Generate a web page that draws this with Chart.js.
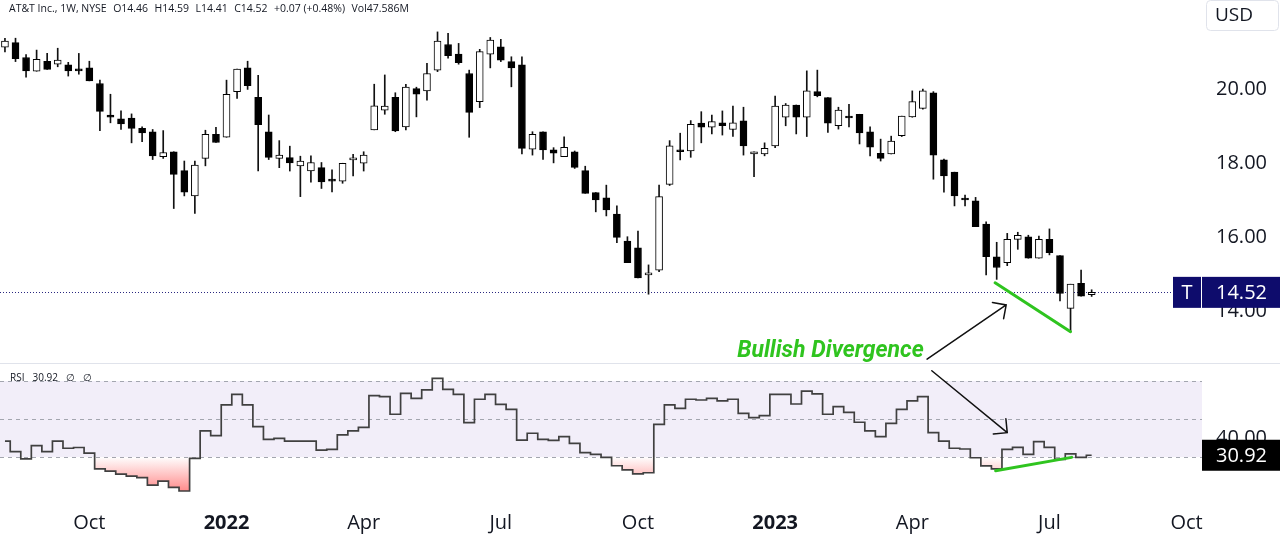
<!DOCTYPE html>
<html>
<head>
<meta charset="utf-8">
<title>AT&T Inc. weekly with RSI</title>
<script src="https://cdn.jsdelivr.net/npm/chart.js@4/dist/chart.umd.min.js"></script>
<style>
  html, body { margin: 0; padding: 0; background: #fff; }
  #wrap { position: relative; width: 1280px; height: 546px; }
</style>
</head>
<body>
<div id="wrap"><canvas id="chart" width="1280" height="546"></canvas></div>
<script>
// weekly bars, first one is the week of 9 Aug 2021 (x = bar index)
const opens  = [21.13,21.25,20.85,20.48,20.75,20.67,20.65,20.51,20.57,20.15,19.30,19.20,19.22,18.94,18.85,18.18,18.31,17.80,17.12,18.13,
                18.78,18.70,19.93,20.57,19.78,18.85,18.13,18.15,17.93,17.79,17.88,17.53,17.52,18.09,18.00,18.90,19.43,19.78,18.98,20.01,
                19.95,20.51,21.20,20.94,20.42,19.66,20.94,21.14,20.74,20.65,18.38,18.85,18.36,18.18,18.31,17.80,17.21,17.07,16.63,15.90,
                15.72,14.99,15.12,17.43,18.36,18.33,19.08,18.97,19.09,18.91,19.14,18.25,18.25,18.47,19.24,19.57,19.24,19.93,19.77,19.01,
                19.24,19.32,18.85,18.27,18.25,18.74,19.25,19.48,19.90,18.09,17.76,17.02,16.99,16.36,15.48,15.32,15.95,16.02,15.44,15.95,
                15.51,14.09,14.76,14.46];
const highs  = [21.37,21.37,20.93,21.05,20.96,21.10,20.72,20.96,20.75,20.24,19.86,19.41,19.33,18.98,18.91,18.88,18.31,18.06,18.06,18.89,
                18.97,20.24,20.54,20.75,20.37,19.30,18.61,18.46,18.19,18.20,18.02,17.82,18.00,18.24,18.31,20.13,20.38,19.90,20.13,20.05,
                20.69,21.54,21.50,21.23,20.51,21.07,21.39,21.34,20.87,20.87,18.85,18.85,18.42,18.71,18.33,17.92,17.21,17.41,16.85,16.02,
                16.17,15.26,17.41,18.61,18.81,19.15,19.39,19.30,19.41,19.54,19.51,18.31,18.55,19.81,19.61,19.57,20.49,20.51,19.77,19.51,
                19.59,19.32,18.98,18.65,18.73,19.27,19.95,20.00,19.93,18.11,17.76,17.14,17.08,16.42,15.87,16.11,16.14,16.06,16.04,16.23,
                15.51,14.74,15.12,14.59];
const lows   = [21.00,20.74,20.32,20.48,20.53,20.60,20.35,20.40,20.22,18.88,19.09,18.91,18.55,18.58,18.10,18.13,16.78,17.12,16.65,17.93,
                18.56,18.70,19.75,19.99,17.79,18.10,17.88,17.79,17.10,17.49,17.32,17.23,17.46,17.66,17.79,18.90,19.32,18.85,18.90,19.25,
                19.70,20.47,20.83,20.67,18.70,19.50,20.57,20.74,20.06,18.25,18.22,18.10,18.01,18.18,17.86,17.19,16.69,16.58,15.86,15.32,
                14.91,14.47,15.08,17.40,18.09,18.16,18.55,18.79,18.76,18.72,18.22,17.64,18.20,18.42,19.01,18.79,18.72,19.79,18.83,18.92,
                18.98,18.52,18.20,18.06,18.25,18.72,19.24,19.46,17.57,17.22,16.85,16.85,16.29,14.99,14.87,15.24,15.68,15.44,15.44,15.53,
                14.29,13.46,14.42,14.41];
const closes = [21.29,20.82,20.49,20.80,20.53,20.78,20.49,20.49,20.22,19.40,19.24,19.06,18.94,18.82,18.20,18.29,17.70,17.22,17.95,18.78,
                18.56,19.86,20.54,20.09,19.04,18.16,18.22,18.01,18.06,18.02,17.50,17.52,18.00,18.10,18.22,19.55,19.54,18.87,20.05,19.86,
                20.42,21.29,20.90,20.71,19.37,21.01,21.32,20.78,20.57,18.40,18.78,18.36,18.27,18.43,17.89,17.19,17.01,16.74,16.00,15.32,
                14.91,15.00,17.10,18.47,18.31,19.05,18.97,19.12,19.01,19.09,18.47,18.31,18.40,19.54,19.57,19.24,19.95,19.82,19.08,19.43,
                19.22,18.82,18.43,18.13,18.60,19.27,19.66,19.95,18.22,17.66,17.12,17.01,16.29,15.48,15.19,15.95,16.06,15.44,15.95,15.59,
                14.49,14.74,14.42,14.52];
const rsi    = [38.4,32.8,29.0,36.0,32.8,38.4,34.6,35.0,32.0,23.7,22.6,21.0,19.9,19.1,15.2,17.3,14.0,12.1,29.3,43.7,
                41.2,57.4,63.0,57.4,46.0,39.3,39.8,38.4,38.4,38.4,33.6,34.0,41.6,43.7,45.6,62.3,61.8,52.5,63.5,60.9,
                65.3,71.4,65.6,63.0,48.1,60.4,63.0,57.7,55.1,38.9,42.5,39.3,38.8,40.7,37.2,32.3,31.4,29.8,25.4,23.2,
                21.1,21.7,47.2,57.4,55.6,60.4,60.0,60.9,59.5,60.4,53.0,50.7,51.8,63.0,63.0,57.9,64.7,63.2,52.5,56.5,
                53.5,48.3,43.8,40.7,47.7,55.1,59.5,61.8,42.8,38.4,34.6,34.2,29.6,25.3,23.7,34.0,35.1,31.4,38.1,35.1,
                28.8,31.6,29.8,30.92];

const monthTicks  = [8, 21, 34, 47, 60, 73, 86, 99, 112];
const monthLabels = ['Oct', '2022', 'Apr', 'Jul', 'Oct', '2023', 'Apr', 'Jul', 'Oct'];
const priceTicks  = [14, 16, 18, 20];
const rsiTicks    = [40];
const rsiLevels   = [30, 50, 70];

// hand drawn divergence marks, as [bar index, value]
const priceDiv     = [[93.85, 14.78], [101.0, 13.46]];
const rsiDiv       = [[93.9, 22.8], [101.1, 29.8]];
const arrowToPrice = [[87.4, 12.72], [94.9, 14.18]];
const arrowToRsi   = [[87.85, 75.4], [95.0, 42.8]];
const noteAt       = [69.4, 12.78];
const noteText     = 'Bullish Divergence';

const header = ['AT&T Inc., 1W, NYSE', 'O14.46', 'H14.59', 'L14.41', 'C14.52', '+0.07 (+0.48%)', 'Vol47.586M'];

const FONT = "'Open Sans', 'Noto Sans', sans-serif";
const TEXT = '#131722';
const GREEN = '#2fc41f';
const NAVY = '#0e0c6c';
const last = closes.length - 1;

const wicks  = lows.map((l, i) => ({ x: i, y: [l, highs[i]] }));
const bodies = opens.map((o, i) => ({ x: i, y: [o, closes[i]] }));
const rsiPts = rsi.map((v, i) => ({ x: i, y: v }));

function arrow(ctx, x1, y1, x2, y2) {
  const a = Math.atan2(y2 - y1, x2 - x1);
  ctx.beginPath();
  ctx.moveTo(x1, y1); ctx.lineTo(x2, y2);
  ctx.moveTo(x2 - 14 * Math.cos(a - Math.PI / 4), y2 - 14 * Math.sin(a - Math.PI / 4));
  ctx.lineTo(x2, y2);
  ctx.lineTo(x2 - 14 * Math.cos(a + Math.PI / 4), y2 - 14 * Math.sin(a + Math.PI / 4));
  ctx.stroke();
}

function valueBox(ctx, x, y, w, h, bg, text, align) {
  ctx.fillStyle = bg;
  ctx.fillRect(x, y - h / 2, w, h);
  ctx.fillStyle = '#fff';
  ctx.textBaseline = 'middle';
  ctx.textAlign = align;
  ctx.fillText(text, align === 'center' ? x + w / 2 : x + 14, y + 1);
}

// drop the half-label padding chart.js adds around the axes
function fixSize(w, h) {
  return s => {
    if (w) s.width = w;
    if (h) s.height = h;
    s.paddingTop = s.paddingBottom = s.paddingLeft = s.paddingRight = 0;
  };
}

const decor = {
  id: 'decor',
  beforeDatasetsDraw(chart) {
    const { ctx, chartArea: a, scales: { y, yRsi } } = chart;
    ctx.save();
    // RSI band and levels
    const t = yRsi.getPixelForValue(rsiLevels[2]);
    const b = yRsi.getPixelForValue(rsiLevels[0]);
    ctx.fillStyle = 'rgba(126,87,194,0.1)';
    ctx.fillRect(a.left, t, a.right - a.left, b - t);
    ctx.strokeStyle = '#a3a6af';
    ctx.lineWidth = 1;
    ctx.setLineDash([4, 4]);
    rsiLevels.forEach(v => {
      const py = Math.round(yRsi.getPixelForValue(v)) + 0.5;
      ctx.beginPath(); ctx.moveTo(a.left, py); ctx.lineTo(a.right, py); ctx.stroke();
    });
    // pane separator
    ctx.setLineDash([]);
    ctx.strokeStyle = '#e0e3eb';
    const sy = Math.round(y.bottom) + 0.5;
    ctx.beginPath(); ctx.moveTo(0, sy); ctx.lineTo(chart.width, sy); ctx.stroke();
    // last price line
    ctx.strokeStyle = '#2a2880';
    ctx.setLineDash([1, 2]);
    const py = Math.round(y.getPixelForValue(closes[last])) + 0.5;
    ctx.beginPath(); ctx.moveTo(a.left, py); ctx.lineTo(a.right - 29, py); ctx.stroke();
    ctx.restore();
  },
  afterDatasetsDraw(chart) {
    const { ctx, scales: { x, y, yRsi } } = chart;
    const px = (p, s) => [x.getPixelForValue(p[0]), s.getPixelForValue(p[1])];
    ctx.save();
    ctx.lineCap = 'round';
    ctx.strokeStyle = GREEN;
    ctx.lineWidth = 3;
    [[priceDiv, y], [rsiDiv, yRsi]].forEach(([seg, s]) => {
      const p0 = px(seg[0], s), p1 = px(seg[1], s);
      ctx.beginPath(); ctx.moveTo(p0[0], p0[1]); ctx.lineTo(p1[0], p1[1]); ctx.stroke();
    });
    ctx.strokeStyle = '#111';
    ctx.lineWidth = 1.5;
    const a0 = px(arrowToPrice[0], y), a1 = px(arrowToPrice[1], y);
    arrow(ctx, a0[0], a0[1], a1[0], a1[1]);
    const b0 = px(arrowToRsi[0], yRsi), b1 = px(arrowToRsi[1], yRsi);
    arrow(ctx, b0[0], b0[1], b1[0], b1[1]);
    ctx.fillStyle = GREEN;
    ctx.font = "italic bold 23px Roboto, " + FONT;
    ctx.textAlign = 'left';
    ctx.textBaseline = 'alphabetic';
    const n = px(noteAt, y);
    ctx.fillText(noteText, n[0], n[1]);
    ctx.restore();
  },
  afterDraw(chart) {
    const { ctx, chartArea: a, scales: { y, yRsi } } = chart;
    ctx.save();
    // header legend, spread over the same span as the original
    ctx.font = '10.5px ' + FONT;
    ctx.fillStyle = TEXT;
    ctx.textBaseline = 'alphabetic';
    ctx.textAlign = 'left';
    const widths = header.map(s => ctx.measureText(s).width);
    const gap = (400 - widths.reduce((p, w) => p + w, 0)) / (header.length - 1);
    let hx = 9;
    header.forEach((s, i) => { ctx.fillText(s, hx, 12); hx += widths[i] + gap; });
    // RSI legend
    ctx.font = '10px ' + FONT;
    let rx = 10;
    ['RSI', '30.92', '\u2205', '\u2205'].forEach(s => { ctx.fillText(s, rx, 381); rx += ctx.measureText(s).width + 8; });
    // currency box
    ctx.fillStyle = '#fff';
    ctx.strokeStyle = '#e0e3eb';
    ctx.lineWidth = 1;
    ctx.beginPath();
    ctx.roundRect(1206.5, 0.5, 72, 30, 4);
    ctx.fill(); ctx.stroke();
    ctx.font = '19px ' + FONT;
    ctx.fillStyle = TEXT;
    ctx.textBaseline = 'middle';
    ctx.fillText('USD', 1215, 16);
    // last value labels
    ctx.font = '20px ' + FONT;
    const py = y.getPixelForValue(closes[last]);
    valueBox(ctx, a.right - 29, py, 28, 31, NAVY, 'T', 'center');
    valueBox(ctx, a.right, py, 78, 31, NAVY, closes[last].toFixed(2), 'left');
    const ry = yRsi.getPixelForValue(rsi[last]);
    valueBox(ctx, a.right, ry, 78, 31, '#000', rsi[last].toFixed(2), 'left');
    ctx.restore();
  }
};

new Chart(document.getElementById('chart'), {
  type: 'bar',
  data: {
    datasets: [
      {
        label: 'wick', data: wicks, yAxisID: 'y', grouped: false, order: 3,
        backgroundColor: '#111', barThickness: 1
      },
      {
        label: 'body', data: bodies, yAxisID: 'y', grouped: false, order: 2,
        backgroundColor: c => closes[c.dataIndex] >= opens[c.dataIndex] ? '#fff' : '#000',
        borderColor: '#000', borderWidth: 1, borderSkipped: false,
        barThickness: 7, minBarLength: 2
      },
      {
        type: 'line', label: 'RSI', data: rsiPts, yAxisID: 'yRsi', order: 1,
        borderColor: '#404040', borderWidth: 1.7, pointRadius: 0, stepped: 'middle',
        fill: { target: { value: rsiLevels[0] }, above: 'rgba(0,0,0,0)' },
        backgroundColor: c => {
          const s = c.chart.scales.yRsi;
          if (!s || !c.chart.chartArea) return 'rgba(255,82,82,0.3)';
          const g = c.chart.ctx.createLinearGradient(0, s.getPixelForValue(rsiLevels[0]), 0, s.getPixelForValue(10));
          g.addColorStop(0, 'rgba(255,82,82,0)');
          g.addColorStop(1, 'rgba(255,82,82,0.75)');
          return g;
        }
      }
    ]
  },
  options: {
    responsive: false,
    devicePixelRatio: 1,
    animation: false,
    events: [],
    layout: { padding: 0, autoPadding: false },
    plugins: { legend: { display: false }, tooltip: { enabled: false } },
    scales: {
      x: {
        type: 'linear', min: -0.47, max: 113.46, offset: false,
        grid: { display: false, drawTicks: false }, border: { display: false },
        afterBuildTicks: s => { s.ticks = monthTicks.map(v => ({ value: v })); },
        afterFit: fixSize(0, 43),
        ticks: {
          autoSkip: false, maxRotation: 0, padding: 8, color: TEXT,
          callback: (v, i) => monthLabels[i],
          font: c => ({ family: FONT, size: 20, weight: c.tick && /^\d{4}$/.test(c.tick.label) ? 'bold' : 'normal' })
        }
      },
      y: {
        type: 'linear', position: 'right', stack: 'panes', stackWeight: 363,
        min: 12.616, max: 22.40,
        grid: { display: false, drawTicks: false }, border: { display: false },
        afterBuildTicks: s => { s.ticks = priceTicks.map(v => ({ value: v })); },
        afterFit: fixSize(78, 0),
        ticks: { padding: 14, color: TEXT, font: { family: FONT, size: 20 }, callback: v => v.toFixed(2) }
      },
      yRsi: {
        type: 'linear', position: 'right', stack: 'panes', stackWeight: 140,
        min: 5.79, max: 79.47,
        grid: { display: false, drawTicks: false }, border: { display: false },
        afterBuildTicks: s => { s.ticks = rsiTicks.map(v => ({ value: v })); },
        afterFit: fixSize(78, 0),
        ticks: { padding: 14, color: TEXT, font: { family: FONT, size: 20 }, callback: v => v.toFixed(2) }
      }
    }
  },
  plugins: [decor]
});
</script>
</body>
</html>
